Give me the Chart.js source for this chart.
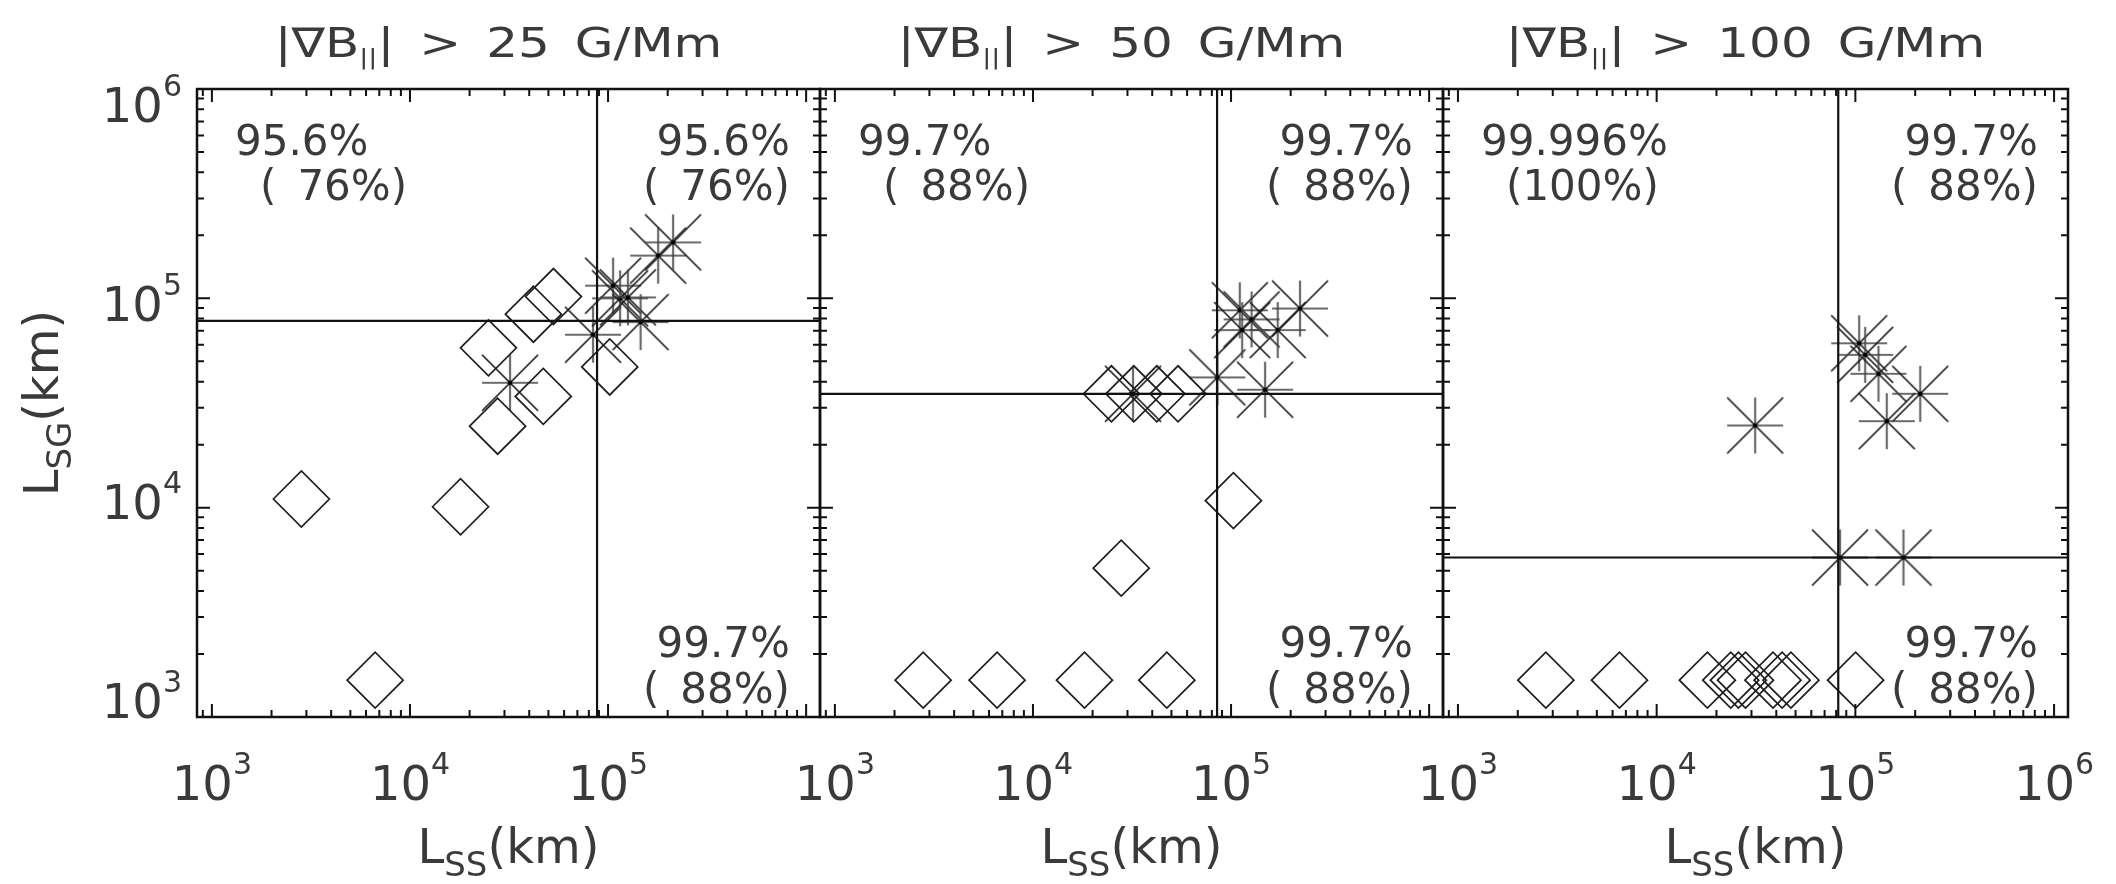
<!DOCTYPE html>
<html>
<head>
<meta charset="utf-8">
<script src="https://cdn.jsdelivr.net/npm/chart.js@4.4.1/dist/chart.umd.min.js"></script>
<style>
  html, body { margin: 0; padding: 0; background: #fff; }
  #wrap { position: relative; width: 2116px; height: 884px; background: #fff; }
  #wrap canvas { position: absolute; left: 0; top: 0; }
</style>
</head>
<body>
<div id="wrap">
  <canvas id="p1" width="2116" height="884"></canvas>
  <canvas id="p2" width="2116" height="884"></canvas>
  <canvas id="p3" width="2116" height="884"></canvas>
</div>
<script>
// gradient cut used in each panel title (G/Mm)
const gradCuts = ['25', '50', '100'];

// panel 1: |grad B| > 25 G/Mm  (L_SS, L_SG in km)
const p1DiamondX = [53000, 42000, 24900, 47100, 27700, 102000, 18000, 2830, 6670];
const p1DiamondY = [102000, 84000, 58000, 34000, 24500, 47000, 10100, 11000, 1500];
const p1StarX = [32000, 84000, 106000, 115000, 126000, 146000, 179000, 213000];
const p1StarY = [39500, 67000, 115000, 100000, 101000, 77000, 160000, 185000];

// panel 2: |grad B| > 50 G/Mm
const p2DiamondX = [24900, 32300, 42200, 54000, 102800, 27900, 2790, 6590, 18200, 47400];
const p2DiamondY = [35000, 35000, 35000, 35000, 10800, 5140, 1500, 1500, 1500, 1500];
const p2StarX = [32000, 85300, 148600, 110700, 127000, 113800, 172000, 223000];
const p2StarY = [35000, 41900, 36600, 87700, 79300, 70500, 70500, 89400];

// panel 3: |grad B| > 100 G/Mm
const p3DiamondX = [2770, 6500, 18000, 23600, 25800, 28000, 38500, 42800, 47400, 100300];
const p3DiamondY = [1500, 1500, 1500, 1500, 1500, 1500, 1500, 1500, 1500, 1500];
const p3StarX = [31300, 104500, 112000, 130700, 212000, 143900, 83700, 174600];
const p3StarY = [24700, 61000, 53700, 43600, 35000, 25900, 5780, 5780];

// threshold lines per panel
const cutLss = [88000, 85000, 82000];
const cutLsg = [78000, 35000, 5780];

// quadrant percentages per panel
const upperLeftPct = ['95.6%', '99.7%', '99.996%'];
const upperLeftSub = ['(\u200276%)', '(\u200288%)', '(100%)'];
const upperRightPct = ['95.6%', '99.7%', '99.7%'];
const upperRightSub = ['(\u200276%)', '(\u200288%)', '(\u200288%)'];
const lowerRightPct = ['99.7%', '99.7%', '99.7%'];
const lowerRightSub = ['(\u200288%)', '(\u200288%)', '(\u200288%)'];

// decade labels drawn under / beside each panel
const xLabelExps = [[3, 4, 5], [3, 4, 5], [3, 4, 5, 6]];
const yLabelExps = [3, 4, 5, 6];

const X_MIN = 841, X_MAX = 1.175e6, Y_MIN = 1e3, Y_MAX = 1e6;
const W = 2116, H = 884;
const plotLeft = [197, 820, 1443];
const plotRight = [820, 1443, 2068];
const PLOT_TOP = 89, PLOT_BOTTOM = 717;
const FONT = '"DejaVu Sans", sans-serif';
const INK = '#3a3a3a';

const diamondX = [p1DiamondX, p2DiamondX, p3DiamondX];
const diamondY = [p1DiamondY, p2DiamondY, p3DiamondY];
const starX = [p1StarX, p2StarX, p3StarX];
const starY = [p1StarY, p2StarY, p3StarY];

const zip = (xs, ys) => xs.map((v, i) => ({ x: v, y: ys[i] }));

// IDL-style asterisk: plus sign plus diagonals reaching the corners
function makeAsterisk(r) {
  const s = 2 * r + 4, m = s / 2;
  const c = document.createElement('canvas');
  c.width = s; c.height = s;
  const g = c.getContext('2d');
  g.strokeStyle = 'rgba(70,70,70,0.8)';
  g.lineWidth = 2.2;
  g.beginPath();
  g.moveTo(m - r, m); g.lineTo(m + r, m);
  g.moveTo(m, m - r); g.lineTo(m, m + r);
  g.stroke();
  g.strokeStyle = '#1c1c1c';
  g.lineWidth = 1.7;
  g.beginPath();
  g.moveTo(m - r, m - r); g.lineTo(m + r, m + r);
  g.moveTo(m + r, m - r); g.lineTo(m - r, m + r);
  g.stroke();
  g.fillStyle = '#000';
  g.beginPath(); g.arc(m, m, 2.3, 0, Math.PI * 2); g.fill();
  return c;
}
const asterisk = makeAsterisk(28);

function runsWidth(ctx, runs, sx) {
  let w = 0;
  for (const r of runs) {
    ctx.font = `${r.size}px ${FONT}`;
    w += ctx.measureText(r.text).width;
  }
  return w * sx;
}

// draws a row of text pieces (sub/superscripts via size + dy), optionally stretched
function drawRuns(ctx, runs, x, y, align, sx = 1) {
  const w = runsWidth(ctx, runs, sx);
  let cx = align === 'center' ? x - w / 2 : align === 'right' ? x - w : x;
  ctx.textAlign = 'left';
  ctx.textBaseline = 'alphabetic';
  for (const r of runs) {
    ctx.font = `${r.size}px ${FONT}`;
    ctx.save();
    ctx.translate(cx, y + (r.dy || 0));
    ctx.scale(sx, 1);
    ctx.fillText(r.text, 0, 0);
    ctx.restore();
    cx += ctx.measureText(r.text).width * sx;
  }
}

const powRuns = (e) => [{ text: '10', size: 48 }, { text: String(e), size: 30, dy: -26 }];

function decorPlugin(idx) {
  return {
    id: 'decor' + idx,
    afterDatasetsDraw(chart) {
      const { ctx, chartArea: a, scales: { x, y } } = chart;
      ctx.save();

      // frame
      ctx.strokeStyle = '#111';
      ctx.lineWidth = 2.5;
      ctx.strokeRect(a.left, a.top, a.right - a.left, a.bottom - a.top);

      // inward log ticks on all four sides
      ctx.lineWidth = 2;
      ctx.beginPath();
      for (let e = 2; e <= 6; e++) {
        for (let m = 1; m <= 9; m++) {
          const v = m * Math.pow(10, e);
          const len = m === 1 ? 13 : 7;
          if (v >= X_MIN && v <= X_MAX) {
            const px = x.getPixelForValue(v);
            ctx.moveTo(px, a.bottom); ctx.lineTo(px, a.bottom - len);
            ctx.moveTo(px, a.top); ctx.lineTo(px, a.top + len);
          }
          if (v >= Y_MIN && v <= Y_MAX) {
            const py = y.getPixelForValue(v);
            ctx.moveTo(a.left, py); ctx.lineTo(a.left + len, py);
            ctx.moveTo(a.right, py); ctx.lineTo(a.right - len, py);
          }
        }
      }
      ctx.stroke();

      ctx.fillStyle = INK;

      // x decade labels
      for (const e of xLabelExps[idx]) {
        drawRuns(ctx, powRuns(e), x.getPixelForValue(Math.pow(10, e)), 800, 'center');
      }

      // y decade labels (left panel only)
      if (idx === 0) {
        const mid = (a.top + a.bottom) / 2;
        for (const e of yLabelExps) {
          const py = y.getPixelForValue(Math.pow(10, e));
          const cy = mid + (py - mid) * 0.95;
          drawRuns(ctx, powRuns(e), a.left - 15, cy + 17, 'right');
        }
        // y axis title
        ctx.save();
        ctx.translate(58, mid);
        ctx.rotate(-Math.PI / 2);
        drawRuns(ctx, [
          { text: 'L', size: 48 },
          { text: 'SG', size: 34, dy: 13 },
          { text: '(km)', size: 48 }
        ], 0, 0, 'center');
        ctx.restore();
      }

      // x axis title
      const cxArea = (a.left + a.right) / 2;
      drawRuns(ctx, [
        { text: 'L', size: 48 },
        { text: 'SS', size: 34, dy: 13 },
        { text: '(km)', size: 48 }
      ], cxArea, 863, 'center');

      // panel title
      drawRuns(ctx, [
        { text: '|\u2207B', size: 41 },
        { text: '||', size: 22, dy: 7 },
        { text: '|\u2002>\u2002' + gradCuts[idx] + '\u2002G/Mm', size: 41 }
      ], cxArea - 10, 57, 'center', 1.22);

      // quadrant percentages
      ctx.font = `42px ${FONT}`;
      ctx.textBaseline = 'alphabetic';
      ctx.textAlign = 'left';
      ctx.fillText(upperLeftPct[idx], a.left + 38, 155);
      ctx.fillText(upperLeftSub[idx], a.left + 63, 200);
      ctx.textAlign = 'right';
      ctx.fillText(upperRightPct[idx], a.right - 30, 155);
      ctx.fillText(upperRightSub[idx], a.right - 30, 200);
      ctx.fillText(lowerRightPct[idx], a.right - 30, 657);
      ctx.fillText(lowerRightSub[idx], a.right - 30, 703);

      ctx.restore();
    }
  };
}

function makePanel(idx) {
  const lineStyle = { showLine: true, pointRadius: 0, borderColor: '#111', borderWidth: 2.2, fill: false };
  new Chart(document.getElementById('p' + (idx + 1)), {
    type: 'scatter',
    data: {
      datasets: [
        {
          data: [{ x: X_MIN, y: cutLsg[idx] }, { x: X_MAX, y: cutLsg[idx] }],
          ...lineStyle
        },
        {
          data: [{ x: cutLss[idx], y: Y_MIN }, { x: cutLss[idx], y: Y_MAX }],
          ...lineStyle
        },
        {
          data: zip(diamondX[idx], diamondY[idx]),
          pointStyle: 'rectRot',
          pointRadius: 28,
          pointHoverRadius: 28,
          borderColor: '#1e1e1e',
          borderWidth: 1.7,
          backgroundColor: 'rgba(0,0,0,0)'
        },
        {
          data: zip(starX[idx], starY[idx]),
          pointStyle: asterisk,
          pointRadius: 28,
          pointHoverRadius: 28
        }
      ]
    },
    options: {
      responsive: false,
      animation: false,
      devicePixelRatio: 1,
      events: [],
      layout: {
        padding: {
          left: plotLeft[idx],
          right: W - plotRight[idx],
          top: PLOT_TOP,
          bottom: H - PLOT_BOTTOM
        }
      },
      plugins: {
        legend: { display: false },
        tooltip: { enabled: false },
        title: { display: false }
      },
      scales: {
        x: { type: 'logarithmic', min: X_MIN, max: X_MAX, bounds: 'data', display: false },
        y: { type: 'logarithmic', min: Y_MIN, max: Y_MAX, bounds: 'data', display: false }
      }
    },
    plugins: [decorPlugin(idx)]
  });
}

[0, 1, 2].forEach(makePanel);
</script>
</body>
</html>
